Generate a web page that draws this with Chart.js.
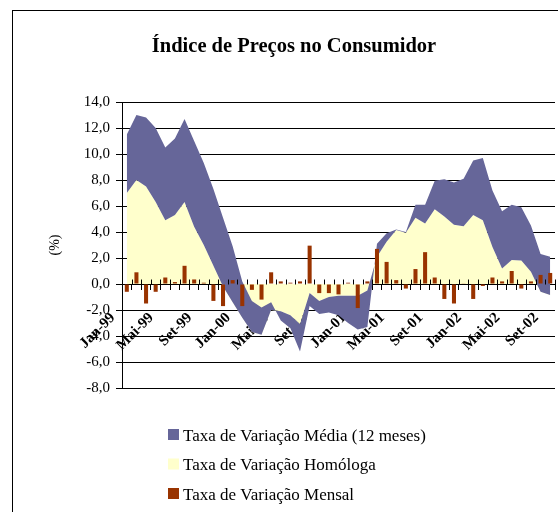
<!DOCTYPE html>
<html>
<head>
<meta charset="utf-8">
<script src="https://cdn.jsdelivr.net/npm/chart.js@4.4.1/dist/chart.umd.min.js"></script>
<style>
html,body{margin:0;padding:0;background:#fff;overflow:hidden}
#wrap{width:558px;height:512px;position:relative}
</style>
</head>
<body>
<div id="wrap"><canvas id="c" width="558" height="512"></canvas></div>
<script>
// ---- DATA ----
const categories = [
  'Jan-99','Fev-99','Mar-99','Abr-99','Mai-99','Jun-99','Jul-99','Ago-99','Set-99','Out-99','Nov-99','Dez-99',
  'Jan-00','Fev-00','Mar-00','Abr-00','Mai-00','Jun-00','Jul-00','Ago-00','Set-00','Out-00','Nov-00','Dez-00',
  'Jan-01','Fev-01','Mar-01','Abr-01','Mai-01','Jun-01','Jul-01','Ago-01','Set-01','Out-01','Nov-01','Dez-01',
  'Jan-02','Fev-02','Mar-02','Abr-02','Mai-02','Jun-02','Jul-02','Ago-02','Set-02'
];
// Taxa de Variação Homóloga (%)
const homologa = [
  7.0, 8.0, 7.5, 6.3, 4.9, 5.3, 6.3, 4.4, 3.0, 1.4, -0.2, -1.4,
  -2.6, -3.7, -3.9, -2.0, -2.1, -2.4, -3.1, -0.7, -1.3, -1.0, -0.9, -0.9,
  -0.9, -0.5, 2.1, 3.25, 4.15, 3.95, 5.1, 4.65, 5.75, 5.2, 4.55, 4.45,
  5.3, 4.9, 2.85, 1.2, 1.85, 1.8, 0.95, -0.6, -0.85
];
// Taxa de Variação Média (12 meses) (%) - stacked on top of Homóloga in the chart
const media = [
  4.5, 5.0, 5.3, 5.7, 5.6, 5.9, 6.4, 6.6, 6.3, 5.9, 5.3, 4.3,
  2.8, 2.4, 2.1, 0.6, -0.7, -1.0, -2.1, -1.0, -1.0, -1.2, -1.5, -2.1,
  -2.6, -2.8, 1.0, 0.65, 0.05, 0.05, 1.0, 1.45, 2.2, 2.85, 3.25, 3.65,
  4.2, 4.8, 4.35, 4.4, 4.25, 4.1, 3.55, 2.9, 2.95
];
// Taxa de Variação Mensal (%)
const mensal = [
  -0.6, 0.9, -1.5, -0.6, 0.5, 0.15, 1.4, 0.35, 0.1, -1.3, -1.7, 0.3,
  -1.7, -0.45, -1.2, 0.9, 0.2, 0.1, 0.2, 2.95, -0.7, -0.7, -0.8, 0.1,
  -1.85, 0.2, 2.7, 1.7, 0.3, -0.35, 1.15, 2.45, 0.5, -1.15, -1.5, 0.05,
  -1.15, -0.15, 0.5, 0.2, 1.0, -0.35, 0.2, 0.7, 0.85
];
const seriesNames = ['Taxa de Variação Média (12 meses)', 'Taxa de Variação Homóloga', 'Taxa de Variação Mensal'];
const chartTitle = 'Índice de Preços no Consumidor';
const yAxisTitle = '(%)';
const yMin = -8, yMax = 14, yStep = 2;

// stacked top of the "Média" area (Excel stacked area)
const mediaTop = homologa.map((h, i) => Math.round((h + media[i]) * 100) / 100);

const COL_MEDIA = '#666699';
const COL_HOMO = '#FFFFCC';
const COL_MENSAL = '#993300';
const SERIF = '"Liberation Serif", "Times New Roman", serif';

Chart.defaults.font.family = SERIF;
Chart.defaults.color = '#000';

const framePlugin = {
  id: 'frame',
  beforeDraw(chart) {
    const ctx = chart.ctx;
    ctx.save();
    ctx.fillStyle = '#fff';
    ctx.fillRect(0, 0, chart.width, chart.height);
    ctx.strokeStyle = '#000';
    ctx.lineWidth = 1;
    ctx.strokeRect(12.5, 10.5, 1000, 1000);
    ctx.restore();
  }
};

const upperTicksPlugin = {
  id: 'upperTicks',
  afterDraw(chart) {
    const xs = chart.scales.x, ys = chart.scales.y;
    const ctx = chart.ctx;
    const y0 = Math.round(ys.getPixelForValue(0)) + 0.5;
    const half = (xs.getPixelForValue(1) - xs.getPixelForValue(0)) / 2;
    ctx.save();
    ctx.strokeStyle = '#000';
    ctx.lineWidth = 1;
    ctx.beginPath();
    for (let i = 0; i <= categories.length; i++) {
      const x = Math.round(xs.getPixelForValue(Math.min(i, categories.length - 1)) + (i === categories.length ? half : -half)) + 0.5;
      ctx.moveTo(x, y0 - 5);
      ctx.lineTo(x, y0);
    }
    ctx.stroke();
    ctx.restore();
  }
};

const customLegend = {
  id: 'customLegend',
  afterDraw(chart) {
    const ctx = chart.ctx;
    const cols = [COL_MEDIA, COL_HOMO, COL_MENSAL];
    ctx.save();
    ctx.font = '17px ' + SERIF;
    ctx.textBaseline = 'alphabetic';
    ctx.textAlign = 'left';
    seriesNames.forEach((name, k) => {
      const base = 440.5 + k * 29.5;
      ctx.fillStyle = cols[k];
      ctx.fillRect(168, base - 11.5, 11, 11);
      ctx.fillStyle = '#000';
      ctx.fillText(name, 183, base);
    });
    ctx.restore();
  }
};

new Chart(document.getElementById('c'), {
  type: 'bar',
  data: {
    labels: categories,
    datasets: [
      {
        type: 'bar',
        label: seriesNames[2],
        data: mensal,
        backgroundColor: COL_MENSAL,
        borderWidth: 0,
        barPercentage: 0.42,
        categoryPercentage: 1.0
      },
      {
        type: 'line',
        label: seriesNames[0],
        data: mediaTop,
        backgroundColor: COL_MEDIA,
        borderColor: 'rgba(0,0,0,0)',
        borderWidth: 0,
        pointRadius: 0,
        tension: 0,
        fill: 2
      },
      {
        type: 'line',
        label: seriesNames[1],
        data: homologa,
        backgroundColor: COL_HOMO,
        borderColor: 'rgba(0,0,0,0)',
        borderWidth: 0,
        pointRadius: 0,
        tension: 0,
        fill: 'origin'
      }
    ]
  },
  options: {
    responsive: false,
    animation: false,
    devicePixelRatio: 1,
    layout: { padding: { top: 10, left: 33, right: 3, bottom: 124 } },
    plugins: {
      legend: { display: false },
      tooltip: { enabled: false },
      title: {
        display: true,
        text: chartTitle,
        color: '#000',
        font: { family: SERIF, size: 20.5, weight: 'bold', lineHeight: 1.2 },
        padding: { top: 24, bottom: 43.4 }
      }
    },
    scales: {
      x: {
        type: 'category',
        position: { y: 0 },
        offset: true,
        z: 1,
        afterFit: s => { s.paddingLeft = 0; s.paddingRight = 0; s.paddingTop = 0; s.paddingBottom = 0; },
        grid: { offset: true, drawOnChartArea: false, drawTicks: true, tickLength: 5, color: '#000', lineWidth: 1 },
        border: { display: true, color: '#000', width: 1 },
        ticks: {
          autoSkip: false,
          minRotation: 45,
          maxRotation: 45,
          padding: 20,
          labelOffset: -14,
          color: '#000',
          font: { family: SERIF, size: 15, weight: 'bold' },
          callback: (v, i) => (i % 4 === 0 ? categories[i] : '')
        }
      },
      y: {
        min: yMin,
        max: yMax,
        afterFit: s => { s.width = 89; },
        grid: { color: '#000', lineWidth: 1, drawTicks: true, tickLength: 6 },
        border: { display: true, color: '#000', width: 1 },
        ticks: {
          stepSize: yStep,
          padding: 6,
          color: '#000',
          font: { family: SERIF, size: 15 },
          callback: v => Number(v).toFixed(1).replace('.', ',')
        },
        title: {
          display: true,
          text: yAxisTitle,
          color: '#000',
          font: { family: SERIF, size: 14 },
          padding: { top: 14, bottom: 0 }
        }
      }
    }
  },
  plugins: [framePlugin, upperTicksPlugin, customLegend]
});
</script>
</body>
</html>
